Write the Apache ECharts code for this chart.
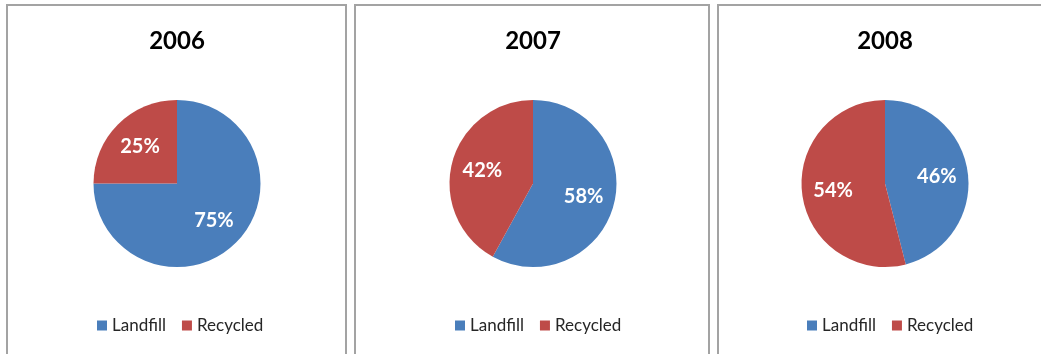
<!DOCTYPE html>
<html>
<head>
<meta charset="utf-8">
<script src="https://cdn.jsdelivr.net/npm/echarts@6/dist/echarts.min.js"></script>
<style>
html,body{margin:0;padding:0;background:#fff;}
#c{width:1041px;height:354px;}
</style>
</head>
<body>
<div id="c"></div>
<script>
const years = ['2006', '2007', '2008'];
const categories = ['Landfill', 'Recycled'];
const landfill = [75, 58, 46];
const recycled = [25, 42, 54];
const colors = ['#4A7EBB', '#BE4B48'];

const panels = [
  {x: 7, w: 339, cx: 177, legendLeft: 97},
  {x: 355, w: 354, cx: 533, legendLeft: 455},
  {x: 718, w: 342, cx: 885, legendLeft: 807}
];
const cy = 183.5, R = 83.5;
const font = 'Lato, "Open Sans", sans-serif';

const chart = echarts.init(document.getElementById('c'), null, {renderer: 'canvas'});

const series = [], titles = [], legends = [], graphics = [];
years.forEach((yr, i) => {
  const p = panels[i];
  const data = [
    {name: categories[0], value: landfill[i]},
    {name: categories[1], value: recycled[i]}
  ];
  graphics.push({
    type: 'rect', silent: true,
    shape: {x: p.x, y: 5, width: p.w, height: 420},
    style: {fill: 'none', stroke: '#a3a3a3', lineWidth: 2}
  });
  titles.push({
    text: yr, left: p.cx, top: 29, textAlign: 'center', padding: 0,
    textStyle: {fontFamily: font, fontWeight: 'bold', fontSize: 24, color: '#000'}
  });
  legends.push({
    data: categories, left: p.legendLeft, top: 317, padding: 0,
    icon: 'rect', itemWidth: 10, itemHeight: 10, itemGap: 16,
    selectedMode: false,
    textStyle: {fontFamily: font, fontSize: 17, color: '#262626'}
  });
  series.push({
    type: 'pie', center: [p.cx, cy], radius: [0, R],
    startAngle: 90, clockwise: true, silent: true,
    color: colors, data: data,
    label: {show: false}, labelLine: {show: false},
    itemStyle: {borderWidth: 0}
  });
  series.push({
    type: 'pie', center: [p.cx, cy], radius: [15, R],
    startAngle: 90, clockwise: true, silent: true,
    color: colors, data: data,
    itemStyle: {color: 'rgba(0,0,0,0)', borderWidth: 0},
    labelLine: {show: false},
    label: {
      show: true, position: 'inside', formatter: '{c}%',
      fontFamily: font, fontWeight: 'bold', fontSize: 20, color: '#fff'
    }
  });
});

chart.setOption({
  animation: false,
  backgroundColor: '#fff',
  title: titles,
  legend: legends,
  graphic: graphics,
  series: series
});
</script>
</body>
</html>
